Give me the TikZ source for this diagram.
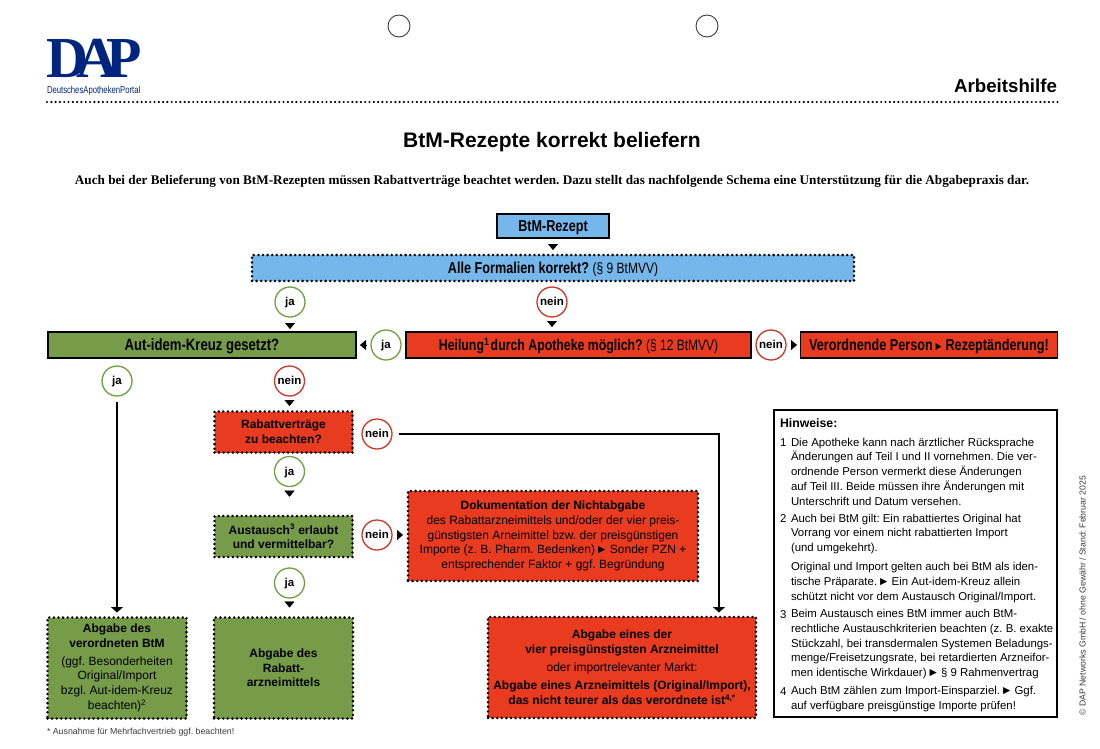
\documentclass[tikz,border=0pt]{standalone}
\usepackage{fontspec}
\setmainfont{Liberation Sans}
\newfontfamily\condfont[FakeStretch=0.8]{Liberation Sans}
\newfontfamily\serifkopf{Liberation Serif}
\usetikzlibrary{arrows.meta, positioning}
\definecolor{cblue}{HTML}{76B7EB}
\definecolor{cgreen}{HTML}{769C4A}
\definecolor{cred}{HTML}{E83B20}
\definecolor{cringgreen}{HTML}{6FA041}
\definecolor{cringred}{HTML}{C8382C}
\definecolor{clogo}{HTML}{00257E}
\definecolor{cgrey}{HTML}{3C3C3C}
\newcommand{\pfeil}{{\kern-2.5pt\fontsize{12}{8}\selectfont ►\kern-1.2pt}}
\tikzset{
  every node/.style={inner sep=0pt, outer sep=0pt, text=black},
  solidbox/.style={draw=black, line width=1.5pt, fill=#1, align=center, execute at begin node={\rule{0pt}{14.3pt}}, font=\condfont\bfseries\fontsize{15.8}{17}\selectfont},
  dotbox/.style={draw=black, line width=2.8pt, dash pattern=on 0pt off 4.6pt, line cap=round, fill=#1, align=center, execute at begin node={\rule{0pt}{14pt}}, font=\fontsize{12}{14.7}\selectfont},
  jaring/.style={circle, draw=cringgreen, line width=1.3pt, fill=white, minimum size=30pt, text height=9pt, text depth=1.5pt, font=\bfseries\fontsize{11.5}{12}\selectfont},
  neinring/.style={circle, draw=cringred, line width=1.3pt, fill=white, minimum size=30pt, text height=9pt, text depth=1.5pt, font=\bfseries\fontsize{11.5}{12}\selectfont},
  tipline/.style={-{Triangle[length=6pt, width=10pt]}, draw=black, line width=0.4pt},
  longline/.style={-{Triangle[length=5.5pt, width=12pt]}, draw=black, line width=1.5pt},
  hint/.style={anchor=north west, align=left, font=\fontsize{11.4}{14.7}\selectfont},
  hintnr/.style={anchor=north west, yshift=-0.8pt, font=\fontsize{11.4}{14.7}\selectfont},
}

\begin{document}
\frenchspacing
\begin{tikzpicture}[x=1pt, y=-1pt]
  \useasboundingbox (0,0) rectangle (1100,749);
  % Kopf
  \node[circle, draw=cgrey, line width=0.9pt, minimum size=22pt] (lochlinks) at (399,26) {};
  \node[circle, draw=cgrey, line width=0.9pt, minimum size=22pt] (lochrechts) at (707,26) {};
  \node[anchor=base west, font=\serifkopf\bfseries\fontsize{58}{58}\selectfont, text=clogo] (logo) at (46,77.5) {D\kern-11.5pt A\kern-11.5pt P};
  \node[anchor=base west, font=\condfont\fontsize{10}{10}\selectfont, text=clogo] (logotext) at (47,94) {\addfontfeature{FakeStretch=0.77}DeutschesApothekenPortal};
  \node[anchor=base east, font=\bfseries\fontsize{18.7}{20}\selectfont] (arbeit) at (1057,92.5) {Arbeitshilfe};
  \coordinate (kopfa) at (47,102);
  \coordinate (kopfb) at (1058,102);
  \draw[black, line width=2.4pt, dash pattern=on 0pt off 4.3pt, line cap=round] (kopfa) -- (kopfb);
  \node[font=\bfseries\fontsize{21}{24}\selectfont] (titel) at (552,142) {BtM-Rezepte korrekt beliefern};
  \node[font=\serifkopf\bfseries\fontsize{13.2}{15}\selectfont] (intro) at (552,181) {Auch bei der Belieferung von BtM-Rezepten müssen Rabattverträge beachtet werden. Dazu stellt das nachfolgende Schema eine Unterstützung für die Abgabepraxis dar.};
  % Schema oben
  \node[solidbox=cblue, minimum width=112, minimum height=24] (rezept) at (553,226) {BtM-Rezept};
  \node[dotbox=cblue, minimum width=602, minimum height=26, font=\condfont\bfseries\fontsize{15.8}{17}\selectfont] (formal) at (553,268) {Alle Formalien korrekt? {\mdseries\fontsize{15}{17}\selectfont (§ 9 BtMVV)}};
  \node[jaring] (jaeins) at (290,302) {ja};
  \node[neinring] (neineins) at (552,302) {nein};
  \node[solidbox=cgreen, minimum width=308, minimum height=26] (autidem) at (202,345) {\fontsize{16.4}{17}\selectfont Aut-idem-Kreuz gesetzt?};
  \node[jaring] (jazwei) at (386,345) {ja};
  \node[solidbox=cred, minimum width=345, minimum height=26] (heilung) at (578.5,345) {\fontsize{15.4}{17}\selectfont Heilung\textsuperscript{1}\kern-2pt{} durch Apotheke möglich? {\mdseries\fontsize{15}{17}\selectfont (§ 12 BtMVV)}};
  \node[neinring] (neinzwei) at (771,345) {nein};
  \node[solidbox=cred, minimum width=257, minimum height=26] (person) at (929,345) {Verordnende Person \pfeil{} Rezeptänderung!};
  \node[jaring] (jadrei) at (117,381) {ja};
  \node[neinring] (neindrei) at (289.5,381) {nein};
  % Schema unten
  \node[dotbox=cred, minimum width=138, minimum height=41] (rabatt) at (283.5,432) {\textbf{Rabattverträge}\\\textbf{zu beachten?}};
  \node[neinring] (neinvier) at (377,434) {nein};
  \node[jaring] (javier) at (289.5,471.5) {ja};
  \node[dotbox=cgreen, minimum width=138, minimum height=41] (austausch) at (283.5,536.5) {\textbf{Austausch\textsuperscript{3} erlaubt}\\\textbf{und vermittelbar?}};
  \node[neinring] (neinfuenf) at (377,535) {nein};
  \node[dotbox=cred, minimum width=290, minimum height=90] (doku) at (553,536) {\textbf{Dokumentation der Nichtabgabe}\\des Rabattarzneimittels und/oder der vier preis-\\günstigsten Arneimittel bzw. der preisgünstigen\\Importe (z. B. Pharm. Bedenken) \pfeil{} Sonder PZN +\\entsprechender Faktor + ggf. Begründung};
  \node[jaring] (jafuenf) at (289.5,583) {ja};
  \node[dotbox=cgreen, minimum width=139, minimum height=101] (verordnet) at (117,668) {\textbf{Abgabe des}\\\textbf{verordneten BtM}\\[3pt](ggf. Besonderheiten\\Original/Import\\bzgl. Aut-idem-Kreuz\\beachten)\textsuperscript{2}};
  \node[dotbox=cgreen, minimum width=139, minimum height=101] (abgaberabatt) at (283.5,668) {\textbf{Abgabe des}\\\textbf{Rabatt-}\\\textbf{arzneimittels}};
  \node[dotbox=cred, minimum width=268, minimum height=101] (abgaberot) at (622,667.5) {\textbf{Abgabe eines der}\\\textbf{vier preisgünstigsten Arzneimittel}\\[3.5pt]oder importrelevanter Markt:\\[3.5pt]\textbf{Abgabe eines Arzneimittels (Original/Import),}\\\textbf{das nicht teurer als das verordnete ist\textsuperscript{4,*}}};
  \node[anchor=base west, font=\fontsize{8.8}{10}\selectfont, text=cgrey] (fussnote) at (47,734) {* Ausnahme für Mehrfachvertrieb ggf. beachten!};
  % Hinweise
  \node[draw=black, line width=1.5pt, minimum width=283, minimum height=307] (hinweisbox) at (915.5,563.5) {};
  \node[anchor=base west, font=\bfseries\fontsize{12.3}{14}\selectfont] (hinweise) at (780,427) {Hinweise:};
  \node[hintnr] (nreins) at (780,438) {1};
  \node[hint] (texteins) at (791,438) {Die Apotheke kann nach ärztlicher Rücksprache\\Änderungen auf Teil I und II vornehmen. Die ver-\\ordnende Person vermerkt diese Änderungen\\auf Teil III. Beide müssen ihre Änderungen mit\\Unterschrift und Datum versehen.};
  \node[hintnr] (nrzwei) at (780,514) {2};
  \node[hint] (textzwei) at (791,514) {Auch bei BtM gilt: Ein rabattiertes Original hat\\Vorrang vor einem nicht rabattierten Import\\(und umgekehrt).};
  \node[hint] (textzweib) at (791,562.5) {Original und Import gelten auch bei BtM als iden-\\tische Präparate. \pfeil{} Ein Aut-idem-Kreuz allein\\schützt nicht vor dem Austausch Original/Import.};
  \node[hintnr] (nrdrei) at (780,609.5) {3};
  \node[hint] (textdrei) at (791,609.5) {Beim Austausch eines BtM immer auch BtM-\\rechtliche Austauschkriterien beachten (z. B. exakte\\Stückzahl, bei transdermalen Systemen Beladungs-\\menge/Freisetzungsrate, bei retardierten Arzneifor-\\men identische Wirkdauer) \pfeil{} § 9 Rahmenvertrag};
  \node[hintnr] (nrvier) at (780,686.5) {4};
  \node[hint] (textvier) at (791,686.5) {Auch BtM zählen zum Import-Einsparziel. \pfeil{} Ggf.\\auf verfügbare preisgünstige Importe prüfen!};
  \node[rotate=90, anchor=base west, font=\fontsize{8.7}{10}\selectfont, text=cgrey] (stand) at (1085.5,715.5) {© DAP Networks GmbH / ohne Gewähr / Stand: Februar 2025};
  % Pfeilspitzen
  \draw[tipline, shorten <=6pt, shorten >=5pt] (rezept.south) -- (formal.north);
  \draw[tipline, shorten <=6pt, shorten >=3pt] (jaeins.south) -- (jaeins.south |- autidem.north);
  \draw[tipline, shorten <=4pt, shorten >=5pt] (neineins.south) -- (neineins.south |- heilung.north);
  \draw[tipline, shorten <=5pt, shorten >=4pt] (jazwei.west) -- (autidem.east |- jazwei.west);
  \draw[tipline, shorten <=5pt, shorten >=3.5pt] (neinzwei.east) -- (person.west |- neinzwei.east);
  \draw[tipline, shorten <=4pt, shorten >=5.5pt] (neindrei.south) -- (neindrei.south |- rabatt.north);
  \draw[tipline, shorten <=4.2pt, shorten >=19.3pt] (javier.south) -- (javier.south |- austausch.north);
  \draw[tipline, shorten <=5pt, shorten >=5pt] (neinfuenf.east) -- (doku.west |- neinfuenf.east);
  \draw[tipline, shorten <=4pt, shorten >=10pt] (jafuenf.south) -- (jafuenf.south |- abgaberabatt.north);
  % lange Linien
  \coordinate (knick) at (719,434);
  \draw[longline, shorten <=5.5pt, shorten >=5pt] (jadrei.south) -- (jadrei.south |- verordnet.north);
  \draw[longline, shorten <=6.5pt, shorten >=4.5pt] (neinvier.east) -- (knick) -- (knick |- abgaberot.north);
\end{tikzpicture}
\end{document}
